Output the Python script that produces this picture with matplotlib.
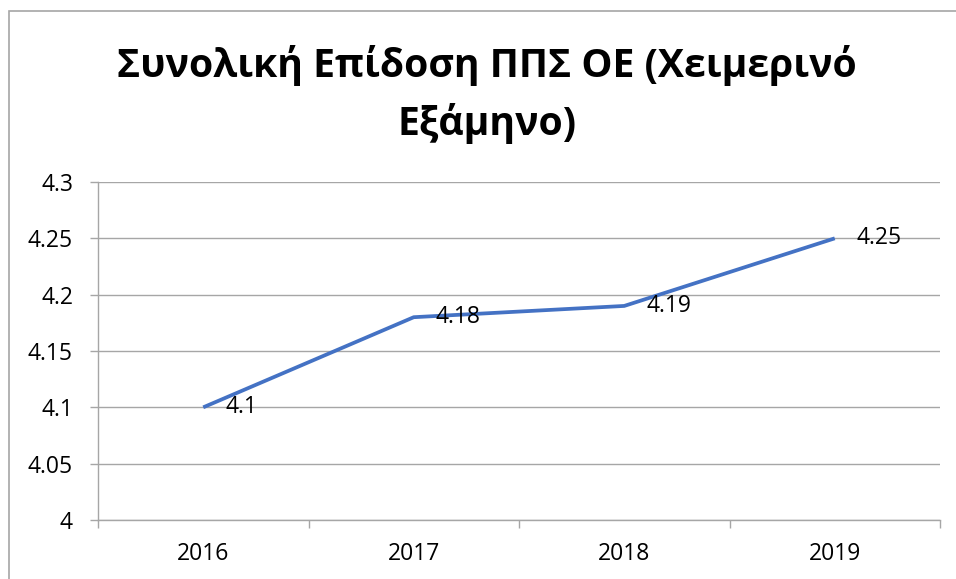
import matplotlib
matplotlib.use("Agg")
import matplotlib.pyplot as plt
from matplotlib.patches import Rectangle

years = ["2016", "2017", "2018", "2019"]
values = [4.10, 4.18, 4.19, 4.25]
value_labels = ["4.1", "4.18", "4.19", "4.25"]
yticks = [4.0, 4.05, 4.1, 4.15, 4.2, 4.25, 4.3]
ytick_labels = ["4", "4.05", "4.1", "4.15", "4.2", "4.25", "4.3"]
title_lines = ["Συνολική Επίδοση ΠΠΣ ΟΕ (Χειμερινό", "Εξάμηνο)"]

FONT = ["Open Sans", "DejaVu Sans"]
plt.rcParams['font.family'] = FONT

W, H = 956, 579
fig = plt.figure(figsize=(W / 100, H / 100), dpi=100)
fig.patch.set_facecolor("white")

# chart border (left and top visible)
fig.add_artist(Rectangle((9 / W, -0.5), 2.0, 1.5 - 11 / H,
                         transform=fig.transFigure, fill=False,
                         edgecolor="#a6a6a6", linewidth=1.2))

left, right, top, bottom = 98, 940, 182, 520
ax = fig.add_axes([left / W, 1 - bottom / H, (right - left) / W, (bottom - top) / H])

LS = 16.5
x = list(range(len(years)))
ax.plot(x, values, color="#4472C4", linewidth=2.7, solid_capstyle="butt", zorder=3)

for xi, v, lab in zip(x, values, value_labels):
    ax.annotate(lab, (xi, v), xytext=(22 * 0.72, 0), textcoords="offset points",
                ha="left", va="center", fontsize=LS, color="black", zorder=4)

ax.set_xlim(-0.5, len(years) - 0.5)
ax.set_ylim(yticks[0], yticks[-1])
ax.set_yticks(yticks)
ax.set_yticklabels(ytick_labels)
ax.yaxis.grid(True, color="#a6a6a6", linewidth=1.0)
ax.set_axisbelow(True)

bounds = [i - 0.5 for i in range(len(years) + 1)]
ax.set_xticks(bounds)
ax.set_xticklabels([""] * len(bounds))
ax.set_xticks(x, minor=True)
ax.set_xticklabels(years, minor=True)
ax.tick_params(axis="x", which="major", length=6, width=1.0, color="#a6a6a6", direction="out")
ax.tick_params(axis="x", which="minor", length=0, pad=16, labelsize=LS)
ax.tick_params(axis="y", length=6, width=1.0, color="#a6a6a6", pad=12, labelsize=LS)

for s in ["top", "right"]:
    ax.spines[s].set_visible(False)
for s in ["left", "bottom"]:
    ax.spines[s].set_color("#a6a6a6")
    ax.spines[s].set_linewidth(1.0)

# title: two lines, fit line 1 width to ~739 px
cx = 487 / W
t1 = fig.text(cx, 1 - 77 / H, title_lines[0], ha="center", va="baseline",
              fontsize=30, fontweight="bold", color="black")
t2 = fig.text(cx, 1 - 135 / H, title_lines[1], ha="center", va="baseline",
              fontsize=30, fontweight="bold", color="black")
fig.canvas.draw()
w1 = t1.get_window_extent().width
fs = 30 * 739 / w1
t1.set_fontsize(fs)
t2.set_fontsize(fs)

fig.savefig("out.png", dpi=100)
